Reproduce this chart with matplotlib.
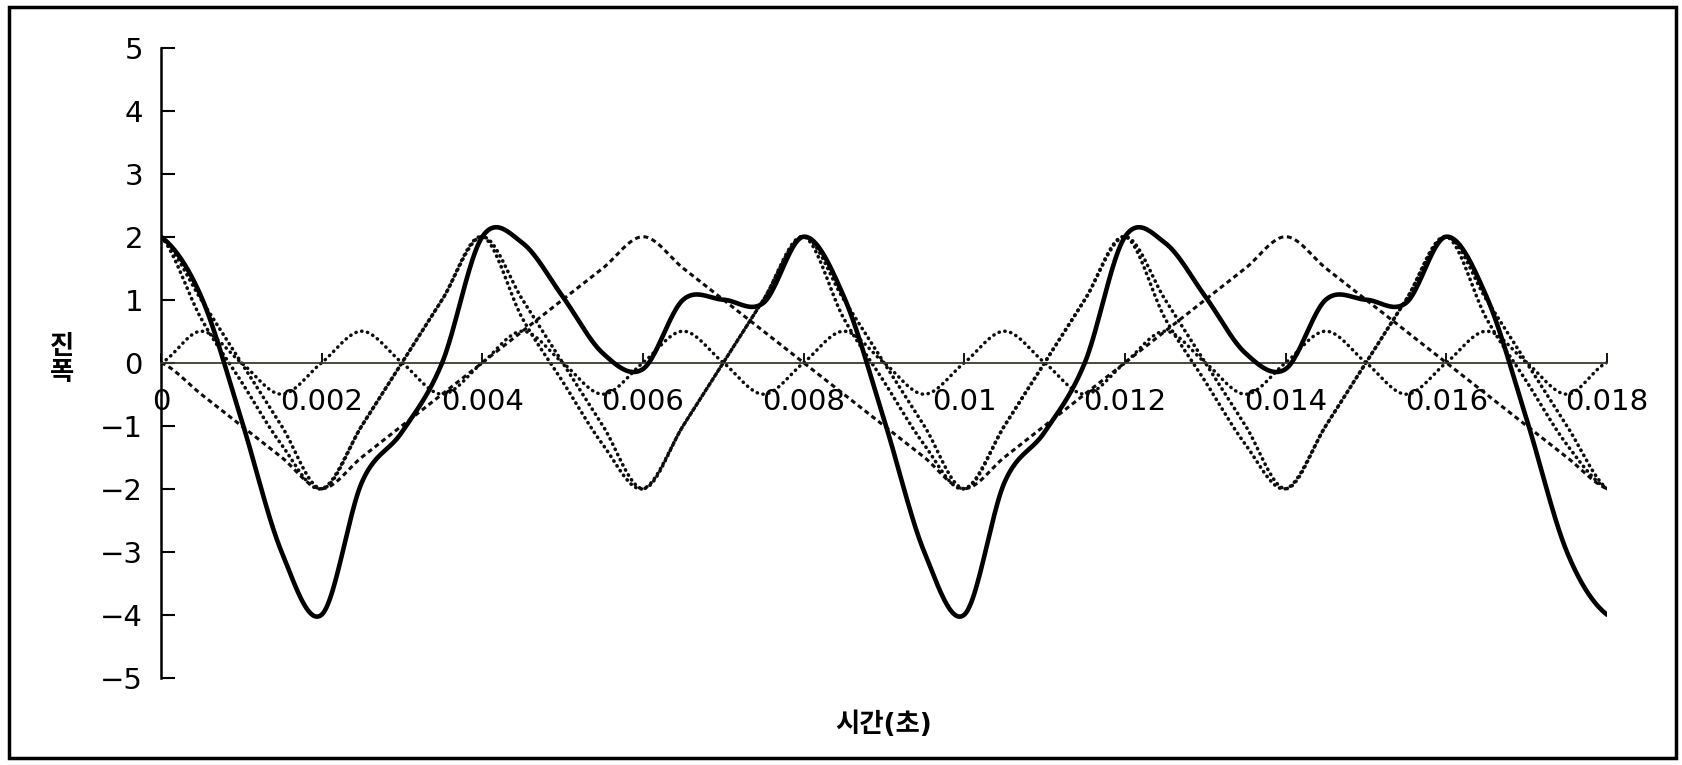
import numpy as np
import matplotlib
matplotlib.use("Agg")
import matplotlib.pyplot as plt
from matplotlib.patches import Rectangle

plt.rcParams['font.family'] = ['DejaVu Sans', 'Noto Sans CJK KR']

# ---------- data (step 0.0005 s) ----------
t = [0.0, 0.0005, 0.001, 0.0015, 0.002, 0.0025, 0.003, 0.0035, 0.004,
     0.0045, 0.005, 0.0055, 0.006, 0.0065, 0.007, 0.0075, 0.008,
     0.0085, 0.009, 0.0095, 0.01, 0.0105, 0.011, 0.0115, 0.012,
     0.0125, 0.013, 0.0135, 0.014, 0.0145, 0.015, 0.0155, 0.016,
     0.0165, 0.017, 0.0175, 0.018]

# composite wave (solid)
total = [2.0, 1.05, -0.9, -3.0, -4.0, -1.9, -1.1, 0.0, 2.0,
         1.9, 1.05, 0.15, -0.1, 1.0, 1.0, 0.95, 2.0,
         1.05, -0.9, -3.0, -4.0, -1.9, -1.1, 0.0, 2.0,
         1.9, 1.05, 0.15, -0.1, 1.0, 1.0, 0.95, 2.0,
         1.05, -0.9, -3.0, -4.0]

# 250 Hz component (dense dots)
comp_a = [2, 1, 0, -1, -2, -1, 0, 1, 2,
          1, 0, -1, -2, -1, 0, 1, 2,
          1, 0, -1, -2, -1, 0, 1, 2,
          1, 0, -1, -2, -1, 0, 1, 2,
          1, 0, -1, -2]

# second trace running beside the 250 Hz one on its falling parts
comp_c = [2, 0.7, -0.3, -1.3, -2, -1, 0, 1, 2,
          0.7, -0.3, -1.3, -2, -1, 0, 1, 2,
          0.7, -0.3, -1.3, -2, -1, 0, 1, 2,
          0.7, -0.3, -1.3, -2, -1, 0, 1, 2,
          0.7, -0.3, -1.3, -2]

# 125 Hz component (short dashes)
comp_b = [0, -0.5, -1, -1.5, -2, -1.5, -1, -0.5, 0,
          0.5, 1, 1.5, 2, 1.5, 1, 0.5, 0,
          -0.5, -1, -1.5, -2, -1.5, -1, -0.5, 0,
          0.5, 1, 1.5, 2, 1.5, 1, 0.5, 0,
          -0.5, -1, -1.5, -2]

# 500 Hz component (small dots)
comp_d = [0, 0.5, 0, -0.5, 0, 0.5, 0, -0.5, 0,
          0.5, 0, -0.5, 0, 0.5, 0, -0.5, 0,
          0.5, 0, -0.5, 0, 0.5, 0, -0.5, 0,
          0.5, 0, -0.5, 0, 0.5, 0, -0.5, 0,
          0.5, 0, -0.5, 0]

x_ticks = [0, 0.002, 0.004, 0.006, 0.008, 0.01, 0.012, 0.014, 0.016, 0.018]
x_labels = ["0", "0.002", "0.004", "0.006", "0.008", "0.01", "0.012",
            "0.014", "0.016", "0.018"]
y_ticks = [5, 4, 3, 2, 1, 0, -1, -2, -3, -4, -5]
y_labels = ["5", "4", "3", "2", "1", "0", "\u22121", "\u22122", "\u22123",
            "\u22124", "\u22125"]


def smooth(x, y, n=24):
    """Catmull-Rom curve through the points (like a spreadsheet's smoothed line)."""
    x = np.asarray(x, float)
    y = np.asarray(y, float)
    px = np.concatenate([[2 * x[0] - x[1]], x, [2 * x[-1] - x[-2]]])
    py = np.concatenate([[y[0]], y, [y[-1]]])
    s = np.linspace(0, 1, n, endpoint=False)
    xs, ys = [], []
    for i in range(1, len(px) - 2):
        p0, p1, p2, p3 = py[i - 1], py[i], py[i + 1], py[i + 2]
        m1 = (p2 - p0) / 2
        m2 = (p3 - p1) / 2
        h00 = 2 * s**3 - 3 * s**2 + 1
        h10 = s**3 - 2 * s**2 + s
        h01 = -2 * s**3 + 3 * s**2
        h11 = s**3 - s**2
        ys.append(h00 * p1 + h10 * m1 + h01 * p2 + h11 * m2)
        xs.append(px[i] + s * (px[i + 1] - px[i]))
    xs.append([x[-1]])
    ys.append([y[-1]])
    return np.concatenate(xs), np.concatenate(ys)


W, H = 1683, 765
fig = plt.figure(figsize=(W / 100, H / 100), dpi=100)
fig.patch.set_facecolor("white")
fig.patches.append(Rectangle((9 / W, 7 / H), 1 - 16 / W, 1 - 14 / H,
                             transform=fig.transFigure, fill=False,
                             edgecolor="black", linewidth=2.5))

ax = fig.add_axes([161 / W, 1 - 677.7 / H, (1607 - 161) / W, (677.7 - 47.7) / H])

ink = "#0d0d0d"
dots = (0, (0.1, 1.5))
for vals, ls, lw, cap in [(comp_c, dots, 2.6, "round"),
                          (comp_a, dots, 2.6, "round"),
                          (comp_b, (0, (1.6, 1.2)), 2.2, "butt"),
                          (comp_d, (0, (0.1, 1.6)), 2.5, "round")]:
    sx, sy = smooth(t, vals)
    ax.plot(sx, sy, color=ink, linestyle=ls, linewidth=lw, dash_capstyle=cap)

sx, sy = smooth(t, total)
ax.plot(sx, sy, color="black", linewidth=3.3, solid_capstyle="round", zorder=5)

ax.set_xlim(0, 0.018)
ax.set_ylim(-5, 5)

for side in ["top", "right"]:
    ax.spines[side].set_visible(False)
ax.spines["left"].set_bounds(-5, 5)
ax.spines["left"].set_linewidth(1.8)
ax.spines["bottom"].set_position(("data", 0))
ax.spines["bottom"].set_color("#3a3a2c")
ax.spines["bottom"].set_linewidth(1.3)

ax.set_xticks(x_ticks)
ax.set_xticklabels(x_labels)
ax.set_yticks(y_ticks)
ax.set_yticklabels(y_labels)
ax.tick_params(axis="x", direction="in", length=7, width=1.3, pad=18,
               labelsize=21, colors="black")
ax.tick_params(axis="y", direction="in", length=10, width=1.5, pad=13,
               labelsize=21)

fig.text(884 / W, 1 - 725 / H, "시간(초)", ha="center", va="center",
         fontsize=19, fontweight="bold")
fig.text(62 / W, 1 - 360 / H, "진\n폭", ha="center", va="center",
         fontsize=19, fontweight="bold", linespacing=1.0)

fig.savefig("out.png", dpi=100)
